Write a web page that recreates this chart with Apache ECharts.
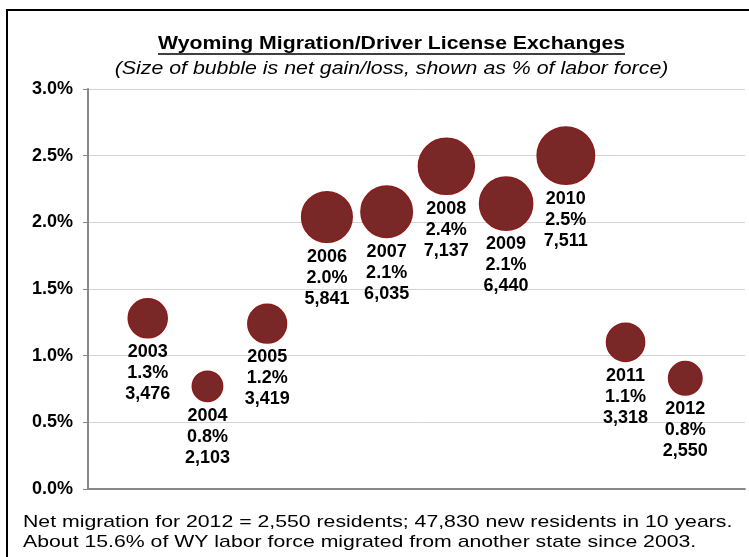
<!DOCTYPE html>
<html>
<head>
<meta charset="utf-8">
<script src="https://cdn.jsdelivr.net/npm/echarts@6/dist/echarts.min.js"></script>
<style>
  html, body { margin: 0; padding: 0; background: #fff; }
  #chart { width: 749px; height: 557px; }
</style>
</head>
<body>
<div id="chart"></div>
<script>
// data
const years = [2003, 2004, 2005, 2006, 2007, 2008, 2009, 2010, 2011, 2012]
const pctLaborForce = [1.28, 0.77, 1.24, 2.04, 2.08, 2.42, 2.14, 2.50, 1.10, 0.83]
const netMigrants = [3476, 2103, 3419, 5841, 6035, 7137, 6440, 7511, 3318, 2550]
const yTicks = [0, 0.5, 1.0, 1.5, 2.0, 2.5, 3.0]

const FONT = 'Arial, "Liberation Sans", sans-serif'
const chart = echarts.init(document.getElementById('chart'))

const points = years.map((y, i) => [y, pctLaborForce[i], netMigrants[i]])

// the original text is drawn a bit wide, so stretch it horizontally
const wideText = (x, y, text, font, scale, align, extra) => Object.assign({
    type: 'text',
    x: x,
    y: y,
    scaleX: scale,
    silent: true,
    style: Object.assign({
        text: text,
        font: font,
        fill: '#000',
        align: align,
        verticalAlign: 'middle'
    }, extra || {})
})

const option = {
    backgroundColor: '#fff',
    animation: false,
    grid: { left: 88, right: 4, top: 89, bottom: 68 },
    xAxis: {
        type: 'value',
        min: 2002,
        max: 2013,
        axisLine: { show: true, lineStyle: { color: '#888', width: 2 } },
        axisTick: { show: false },
        axisLabel: { show: false },
        splitLine: { show: false }
    },
    yAxis: {
        type: 'value',
        min: yTicks[0],
        max: yTicks[yTicks.length - 1],
        interval: 0.5,
        axisLine: { show: true, lineStyle: { color: '#888', width: 2 } },
        axisTick: { show: true, length: 5, lineStyle: { color: '#888', width: 1 } },
        axisLabel: {
            margin: 15,
            fontFamily: FONT, fontSize: 18, fontWeight: 'bold', color: '#000',
            formatter: v => v.toFixed(1) + '%'
        },
        splitLine: { lineStyle: { color: '#d4d4d4', width: 1 } }
    },
    series: [{
        type: 'scatter',
        data: points,
        symbolSize: d => 0.662 * Math.sqrt(d[2]),
        itemStyle: { color: '#7a2727', borderColor: '#8c1c1c', borderWidth: 1.5, opacity: 1 },
        label: {
            show: true,
            position: 'bottom',
            distance: 3,
            fontFamily: FONT, fontSize: 18, fontWeight: 'bold', color: '#000',
            lineHeight: 21,
            align: 'center',
            formatter: p => p.value[0] + '\n' + p.value[1].toFixed(1) + '%\n' + p.value[2].toLocaleString('en-US')
        },
        emphasis: { disabled: true }
    }],
    graphic: [
        {
            type: 'rect',
            shape: { x: 7, y: 10, width: 800, height: 600 },
            style: { fill: 'none', stroke: '#000', lineWidth: 2 },
            silent: true
        },
        wideText(391.5, 44, 'Wyoming Migration/Driver License Exchanges', 'bold 18px ' + FONT, 1.18, 'center'),
        {
            type: 'line',
            shape: { x1: 158, y1: 54, x2: 625, y2: 54 },
            style: { stroke: '#000', lineWidth: 1.5 },
            silent: true
        },
        wideText(391.5, 69, '(Size of bubble is net gain/loss, shown as % of labor force)', 'italic 18px ' + FONT, 1.185, 'center'),
        wideText(23, 522, 'Net migration for 2012 = 2,550 residents; 47,830 new residents in 10 years.', '17px ' + FONT, 1.25, 'left'),
        wideText(23, 542, 'About 15.6% of WY labor force migrated from another state since 2003.', '17px ' + FONT, 1.25, 'left')
    ]
}
chart.setOption(option)
</script>
</body>
</html>
